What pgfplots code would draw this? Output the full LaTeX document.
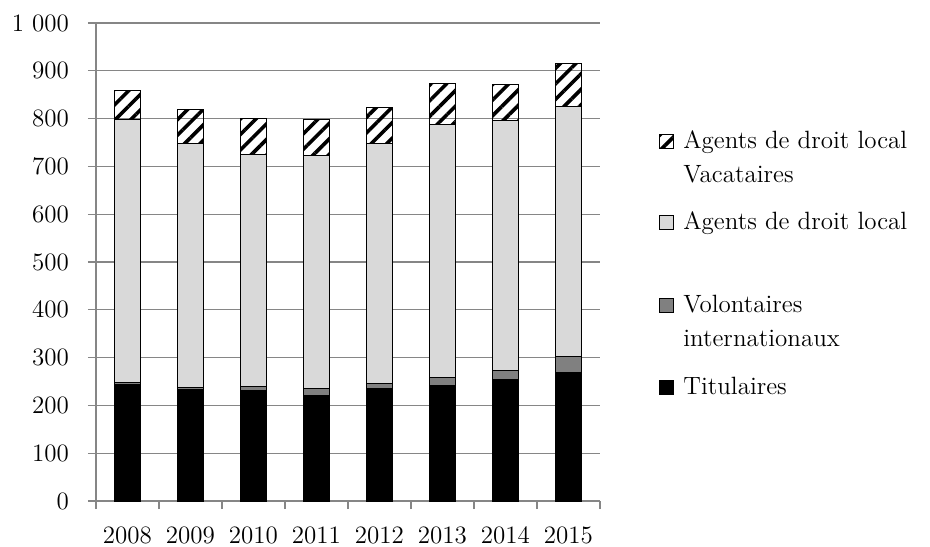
\documentclass[border=0pt]{standalone}
\usepackage{pgfplots}
\pgfplotsset{compat=1.18}
\usetikzlibrary{patterns.meta}
\definecolor{gridgray}{RGB}{134,134,134}
\definecolor{volgray}{RGB}{128,128,128}
\definecolor{adlgray}{RGB}{217,217,217}
\begin{document}
\begin{tikzpicture}[font=\fontsize{12.5}{17.25}\selectfont]
\useasboundingbox (-48pt,-22.5pt) rectangle (417pt,250.5pt);
\begin{axis}[
  scale only axis, width=252pt, height=239pt,
  ybar stacked, bar width=12.8pt,
  xmin=-0.5, xmax=7.5, ymin=0, ymax=1000,
  xtick={0,...,7},
  xticklabels={2008,2009,2010,2011,2012,2013,2014,2015},
  minor xtick={-0.5,0.5,...,7.5},
  major x tick style={draw=none},
  ytick distance=100,
  tick align=outside, major tick length=4pt, minor tick length=4pt,
  tick style={gridgray, line width=0.6pt},
  xticklabel style={yshift=-5.5pt},
  yticklabel style={xshift=-6pt},
  axis x line*=bottom, axis y line*=left,
  axis line style={gridgray, line width=0.6pt},
  ymajorgrids, grid style={gridgray, line width=0.6pt},
  /pgf/number format/assume math mode=true,
  /pgf/number format/1000 sep={\ },
  scaled y ticks=false,
  every axis plot/.append style={draw=black, line width=0.5pt},
  legend image code/.code={\draw[#1,draw=black,line width=0.5pt] (0pt,0pt) rectangle (7pt,7pt);},
  reverse legend,
  legend style={at={(1.117,0.789)}, anchor=north west, draw=none, fill=none,
    inner sep=0pt, row sep=6pt, column sep=4.5pt,
    nodes={inner sep=0pt, text depth=}, cells={anchor=base west}},
]
\addplot[fill=black] coordinates {(0,243) (1,234) (2,231) (3,221) (4,236) (5,241) (6,254) (7,269)};
\addlegendentry{Titulaires}
\addplot[fill=volgray] coordinates {(0,5) (1,4) (2,9) (3,15) (4,9) (5,17) (6,19) (7,34)};
\addlegendentry{\begin{tabular}[t]{@{}l@{}}Volontaires\\internationaux\rule[-9pt]{0pt}{1pt}\end{tabular}}
\addplot[fill=adlgray] coordinates {(0,550) (1,510) (2,485) (3,487) (4,503) (5,530) (6,522) (7,523)};
\addlegendentry{\begin{tabular}[t]{@{}l@{}}Agents de droit local\rule[-23.4pt]{0pt}{1pt}\end{tabular}}
\addplot[fill=white, pattern={Lines[angle=45,distance=5.5pt,line width=1.8pt]}] coordinates {(0,61) (1,71) (2,76) (3,75) (4,76) (5,86) (6,77) (7,89)};
\addlegendentry{\begin{tabular}[t]{@{}l@{}}Agents de droit local\\Vacataires\end{tabular}}
\end{axis}
\end{tikzpicture}
\end{document}
